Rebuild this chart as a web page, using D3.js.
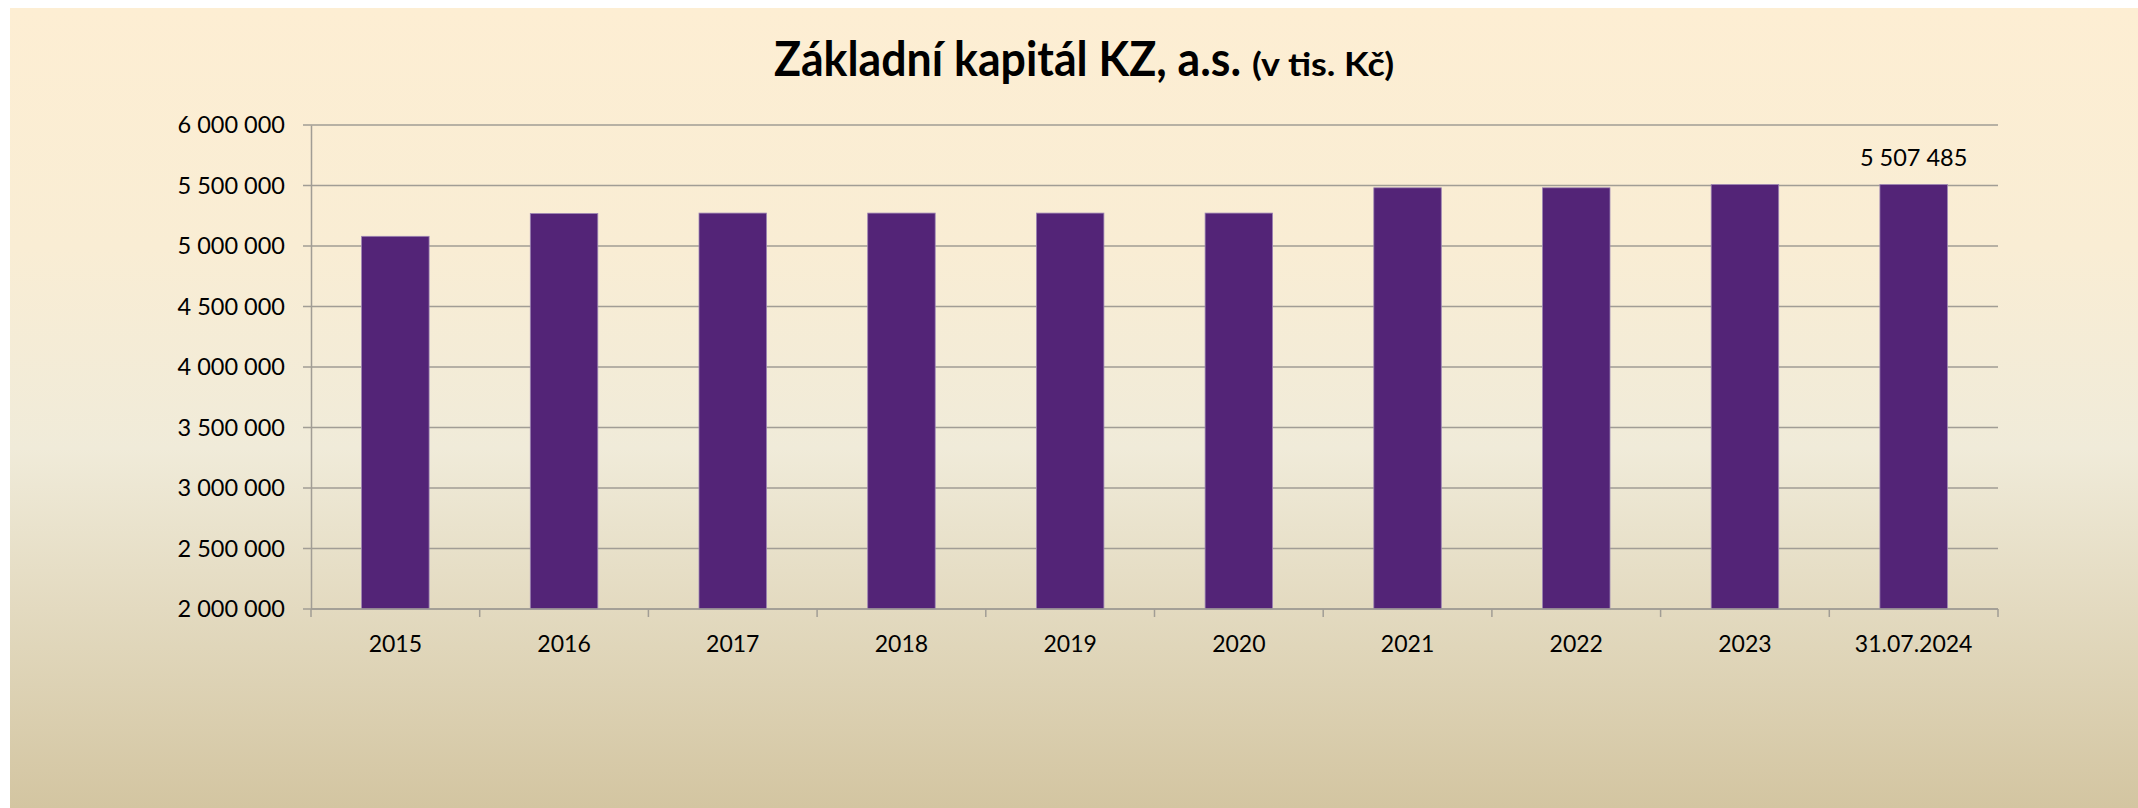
<!DOCTYPE html>
<html>
<head>
<meta charset="utf-8">
<script src="https://cdn.jsdelivr.net/npm/d3@7"></script>
<style>
  html, body { margin: 0; padding: 0; background: #fff; }
  svg { display: block; }
  text { font-family: Lato, "Open Sans", sans-serif; fill: #000; }
</style>
</head>
<body>
<script>
let width = 2138;
let height = 808;

// data
const years = ["2015", "2016", "2017", "2018", "2019", "2020", "2021", "2022", "2023", "31.07.2024"];
const capital = [5080000, 5268000, 5272000, 5272000, 5272000, 5272000, 5481000, 5481000, 5507485, 5507485];
const yTicks = [2000000, 2500000, 3000000, 3500000, 4000000, 4500000, 5000000, 5500000, 6000000];
const labelled = ["31.07.2024"];

let plotLeft = 311, plotRight = 1998, plotTop = 125, plotBottom = 609;

let fmt = v => d3.format(",")(v).replace(/,/g, " ");

let svg = d3.select("body")
  .append("svg")
  .attr("width", width)
  .attr("height", height);

// pozadí s přechodem
let grad = svg.append("defs").append("linearGradient")
  .attr("id", "bg").attr("x1", 0).attr("y1", 0).attr("x2", 0).attr("y2", 1);
grad.append("stop").attr("offset", "0%").attr("stop-color", "#fdeed3");
grad.append("stop").attr("offset", "30%").attr("stop-color", "#f9edd4");
grad.append("stop").attr("offset", "55%").attr("stop-color", "#f0ebd9");
grad.append("stop").attr("offset", "100%").attr("stop-color", "#d3c5a1");

svg.append("rect")
  .attr("x", 10).attr("y", 8)
  .attr("width", width - 10).attr("height", height - 8)
  .attr("fill", "url(#bg)");

let x = d3.scaleBand()
  .domain(years)
  .range([plotLeft, plotRight])
  .paddingInner(0.6)
  .paddingOuter(0.3);

let y = d3.scaleLinear()
  .domain([2000000, 6000000])
  .range([plotBottom, plotTop]);

// mřížka
svg.append("g")
  .selectAll("line")
  .data(yTicks)
  .join("line")
  .attr("x1", plotLeft - 8)
  .attr("x2", plotRight)
  .attr("y1", d => y(d))
  .attr("y2", d => y(d))
  .attr("stroke", "#a19d95")
  .attr("stroke-width", 1.5);

// osa Y
let axisY = d3.axisLeft(y).tickValues(yTicks).tickFormat(fmt).tickSize(0).tickPadding(26);
let gy = svg.append("g")
  .attr("transform", `translate(${plotLeft}, 0)`)
  .call(axisY);
gy.select(".domain").attr("stroke", "#a19d95").attr("stroke-width", 1.5);
gy.selectAll("text").style("font-size", "23.5px").style("font-family", "Lato").attr("fill", "#000");

// sloupce
svg.append("g")
  .selectAll("rect")
  .data(years)
  .join("rect")
  .attr("x", d => x(d))
  .attr("width", x.bandwidth())
  .attr("y", (d, i) => y(capital[i]))
  .attr("height", (d, i) => y(2000000) - y(capital[i]))
  .attr("fill", "#532477")
  .attr("stroke", "#9c84b3")
  .attr("stroke-width", 0.8);

// osa X
let step = (plotRight - plotLeft) / years.length;
let gx = svg.append("g")
  .attr("transform", `translate(0, ${plotBottom})`);
gx.append("line")
  .attr("x1", plotLeft).attr("x2", plotRight)
  .attr("stroke", "#a19d95").attr("stroke-width", 1.5);
gx.selectAll(".tk")
  .data(d3.range(years.length + 1))
  .join("line")
  .attr("class", "tk")
  .attr("x1", i => plotLeft + i * step)
  .attr("x2", i => plotLeft + i * step)
  .attr("y1", 0).attr("y2", 8)
  .attr("stroke", "#a19d95").attr("stroke-width", 1.5);
gx.selectAll("text")
  .data(years)
  .join("text")
  .attr("x", d => x(d) + x.bandwidth() / 2)
  .attr("y", 43)
  .attr("text-anchor", "middle")
  .style("font-size", "23px")
  .text(d => d);

// popisek hodnoty
svg.append("g")
  .selectAll("text")
  .data(years.filter(d => labelled.includes(d)))
  .join("text")
  .attr("x", d => x(d) + x.bandwidth() / 2)
  .attr("y", d => y(capital[years.indexOf(d)]) - 19)
  .attr("text-anchor", "middle")
  .style("font-size", "23.5px")
  .text(d => fmt(capital[years.indexOf(d)]));

// nadpis
svg.append("text")
  .attr("x", 774).attr("y", 76)
  .attr("textLength", 467).attr("lengthAdjust", "spacingAndGlyphs")
  .style("font-size", "47px").style("font-weight", "bold")
  .text("Základní kapitál KZ, a.s.");
svg.append("text")
  .attr("x", 1252).attr("y", 76)
  .attr("textLength", 142).attr("lengthAdjust", "spacingAndGlyphs")
  .style("font-size", "33px").style("font-weight", "bold")
  .text("(v tis. Kč)");
</script>
</body>
</html>
